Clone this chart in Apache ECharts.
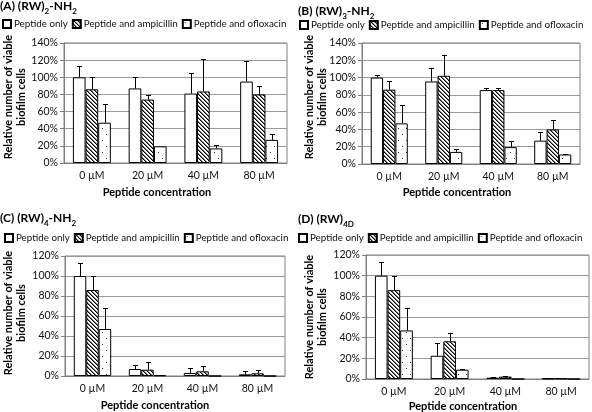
<!DOCTYPE html>
<html>
<head>
<meta charset="utf-8">
<script src="https://cdn.jsdelivr.net/npm/echarts@6/dist/echarts.min.js"></script>
<style>html,body{margin:0;padding:0;background:#fff}#c{width:592px;height:412px}</style>
</head>
<body>
<div id="c"></div>
<script>
// ---- data ----
const categories = ['0 µM', '20 µM', '40 µM', '80 µM'];
const seriesNames = ['Peptide only', 'Peptide and ampicillin', 'Peptide and ofloxacin'];

const A_only = [100, 87, 81, 95];
const A_only_err = [113, 100.5, 105, 119.5];
const A_amp = [86, 74, 83.5, 80];
const A_amp_err = [100, 79.5, 121.5, 90];
const A_oflo = [47, 19.5, 17, 27];
const A_oflo_err = [68.5, 19.5, 21, 34];

const B_only = [100, 95.5, 85.5, 27];
const B_only_err = [103.5, 111, 88.5, 36.5];
const B_amp = [86, 102, 85.5, 40];
const B_amp_err = [96.5, 126.5, 88, 51];
const B_oflo = [47, 14, 19.5, 11];
const B_oflo_err = [68.5, 17.5, 27, 12];

const C_only = [100, 7, 3, 1.7];
const C_only_err = [113, 11, 8.5, 4.7];
const C_amp = [86, 6.3, 4.7, 2.7];
const C_amp_err = [100, 14, 10.5, 5.7];
const C_oflo = [47, 0.7, 0, 0];
const C_oflo_err = [68.5, 0.7, 0, 0];

const D_only = [100, 22.5, 1.3, 0.4];
const D_only_err = [113, 35, 2.3, 0.8];
const D_amp = [86, 36.5, 2.3, 0.5];
const D_amp_err = [100, 44.5, 2.6, 0.5];
const D_oflo = [47, 9, 0, 0];
const D_oflo_err = [68.5, 10, 0, 0];

const yTicksTop = [0, 20, 40, 60, 80, 100, 120, 140];
const yTicksBottom = [0, 20, 40, 60, 80, 100, 120];

// ---- patterns ----
function hatchPattern() {
  const c = document.createElement('canvas');
  c.width = 4; c.height = 4;
  const g = c.getContext('2d');
  g.fillStyle = '#fff'; g.fillRect(0, 0, 4, 4);
  g.fillStyle = '#000';
  for (let i = 0; i < 4; i++) g.fillRect(i, i, 1, 1);
  g.fillStyle = '#777';
  for (let i = 0; i < 4; i++) g.fillRect((i + 1) % 4, i, 1, 1);
  return { image: c, repeat: 'repeat' };
}
function dotPattern() {
  const c = document.createElement('canvas');
  c.width = 8; c.height = 12;
  const g = c.getContext('2d');
  g.fillStyle = '#fff'; g.fillRect(0, 0, 8, 12);
  g.fillStyle = '#333';
  g.fillRect(2, 2, 1, 1);
  g.fillRect(6, 8, 1, 1);
  return { image: c, repeat: 'repeat' };
}
const fills = ['#ffffff', hatchPattern(), dotPattern()];

const FONT = 'Lato';
const panels = [
  { key: 'A', title: '{b|(A) (RW)}{s|2}{b|-NH}{s|2}', titlePos: [0, 0], legendPos: [2, 19],
    grid: { left: 64, top: 43, width: 223, height: 120 }, max: 140, ticks: yTicksTop,
    yTitle: [8, 21, 97], xName: [157, 192],
    data: [[A_only, A_only_err], [A_amp, A_amp_err], [A_oflo, A_oflo_err]] },
  { key: 'B', title: '{b|(B) (RW)}{s|3}{b|-NH}{s|2}', titlePos: [298, 5], legendPos: [299, 20],
    grid: { left: 362, top: 43, width: 218, height: 121 }, max: 140, ticks: yTicksTop,
    yTitle: [309, 322, 97], xName: [457, 192],
    data: [[B_only, B_only_err], [B_amp, B_amp_err], [B_oflo, B_oflo_err]] },
  { key: 'C', title: '{b|(C) (RW)}{s|4}{b|-NH}{s|2}', titlePos: [0, 212], legendPos: [4, 233],
    grid: { left: 65, top: 256, width: 220, height: 120 }, max: 120, ticks: yTicksBottom,
    yTitle: [8, 21, 313], xName: [155, 405],
    data: [[C_only, C_only_err], [C_amp, C_amp_err], [C_oflo, C_oflo_err]] },
  { key: 'D', title: '{b|(D) (RW)}{s|4D}', titlePos: [298, 213], legendPos: [298, 233],
    grid: { left: 366, top: 255, width: 223, height: 124 }, max: 120, ticks: yTicksBottom,
    yTitle: [309, 322, 317], xName: [463, 406],
    data: [[D_only, D_only_err], [D_amp, D_amp_err], [D_oflo, D_oflo_err]] }
];

const GAP = 0.32;
const option = {
  animation: false,
  backgroundColor: '#fff',
  textStyle: { fontFamily: FONT },
  title: [], legend: [], grid: [], xAxis: [], yAxis: [], series: [], graphic: []
};

panels.forEach((p, pi) => {
  option.title.push({
    text: p.title, left: p.titlePos[0], top: p.titlePos[1], padding: 0,
    textStyle: {
      rich: {
        b: { fontFamily: FONT, fontSize: 12, fontWeight: 'bold', color: '#000', lineHeight: 15, verticalAlign: 'top' },
        s: { fontFamily: FONT, fontSize: 8, fontWeight: 'bold', color: '#000', lineHeight: 8, verticalAlign: 'bottom', padding: [9, 0, 0, 0] }
      }
    }
  });
  option.legend.push({
    data: seriesNames, left: p.legendPos[0], top: p.legendPos[1], width: 320, padding: 0,
    itemWidth: 8, itemHeight: 8, itemGap: 4, icon: 'rect',
    textStyle: { fontFamily: FONT, fontSize: 9.8, color: '#111', padding: [0, 0, 0, -2] },
    selectedMode: false
  });
  option.grid.push(Object.assign({ show: true, borderColor: '#808080', borderWidth: 1, backgroundColor: 'transparent' }, p.grid));
  option.xAxis.push({
    type: 'category', gridIndex: pi, data: categories,
    axisLine: { lineStyle: { color: '#808080' } },
    axisTick: { length: 4, lineStyle: { color: '#808080' } },
    axisLabel: { fontFamily: FONT, fontSize: 10.5, color: '#111', margin: 7 }
  });
  option.yAxis.push({
    type: 'value', gridIndex: pi, min: 0, max: p.max, interval: 20,
    axisLine: { show: true, lineStyle: { color: '#808080' } },
    axisTick: { show: true, length: 4, lineStyle: { color: '#808080' } },
    axisLabel: { fontFamily: FONT, fontSize: 10.5, color: '#111', margin: 6, formatter: v => v + '%' },
    splitLine: { lineStyle: { color: '#999' } }
  });
  p.data.forEach((d, si) => {
    option.series.push({
      type: 'bar', name: seriesNames[si], xAxisIndex: pi, yAxisIndex: pi,
      data: d[0], barGap: '0%', barCategoryGap: (GAP * 100) + '%',
      itemStyle: { color: fills[si], borderColor: '#000', borderWidth: 1 },
      z: 2
    });
  });
  const errData = [];
  p.data.forEach((d, si) => {
    d[0].forEach((v, ci) => errData.push([ci, si, v, d[1][ci]]));
  });
  option.series.push({
    type: 'custom', xAxisIndex: pi, yAxisIndex: pi, z: 5,
    data: errData, encode: { x: 0, y: 3 },
    renderItem: function (params, api) {
      const ci = api.value(0), si = api.value(1), v = api.value(2), e = api.value(3);
      if (!(e > v + 0.2)) return null;
      const band = api.size([1, 0])[0];
      const bw = band * (1 - GAP) / 3;
      const base = api.coord([ci, v]);
      const top = api.coord([ci, e]);
      const x = Math.round(base[0] + (si - 1) * bw) + 0.5;
      const yt = Math.round(top[1]) + 0.5;
      return {
        type: 'group', children: [
          { type: 'line', shape: { x1: x, y1: base[1], x2: x, y2: yt }, style: { stroke: '#000', lineWidth: 1 } },
          { type: 'line', shape: { x1: x - 2.5, y1: yt, x2: x + 2.5, y2: yt }, style: { stroke: '#000', lineWidth: 1 } }
        ]
      };
    }
  });
  option.graphic.push({
    type: 'text', x: p.yTitle[0], y: p.yTitle[2], rotation: Math.PI / 2,
    style: { text: 'Relative number of viable', fontFamily: FONT, fontSize: 11, fontWeight: 'bold', fill: '#000', align: 'center', verticalAlign: 'middle' }
  });
  option.graphic.push({
    type: 'text', x: p.yTitle[1], y: p.yTitle[2], rotation: Math.PI / 2,
    style: { text: 'biofilm cells', fontFamily: FONT, fontSize: 11, fontWeight: 'bold', fill: '#000', align: 'center', verticalAlign: 'middle' }
  });
  option.graphic.push({
    type: 'text', x: p.xName[0], y: p.xName[1],
    style: { text: 'Peptide concentration', fontFamily: FONT, fontSize: 11, fontWeight: 'bold', fill: '#000', align: 'center', verticalAlign: 'middle' }
  });
});

const chart = echarts.init(document.getElementById('c'), null, { renderer: 'canvas' });
chart.setOption(option);
</script>
</body>
</html>
